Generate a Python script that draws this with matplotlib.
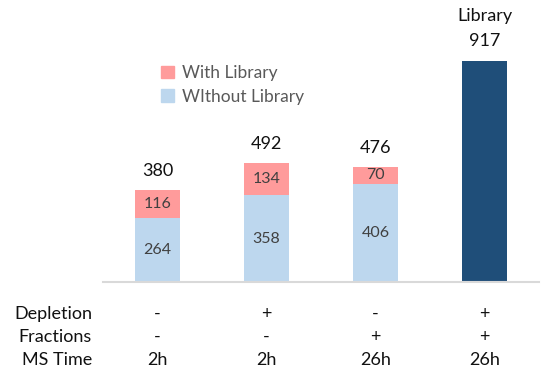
import matplotlib
matplotlib.use("Agg")
import matplotlib.pyplot as plt
import matplotlib.transforms as mtransforms
from matplotlib.patches import Patch

plt.rcParams['font.family'] = ['Lato', 'DejaVu Sans']

# Data
conditions = ["A", "B", "C", "D"]
without_library = [264, 358, 406, 0]
with_library = [116, 134, 70, 0]
library_only = [0, 0, 0, 917]
totals = [380, 492, 476, 917]
row_names = ["Depletion", "Fractions", "MS Time"]
depletion = ["-", "+", "-", "+"]
fractions = ["-", "-", "+", "+"]
ms_time = ["2h", "2h", "26h", "26h"]

c_without = "#BDD7EE"
c_with = "#FF9B9B"
c_lib = "#1F4E79"

fig = plt.figure(figsize=(5.56, 3.78), dpi=100)
ax = fig.add_axes([103/556, 1 - 281.7/378, (539 - 103)/556, 281.7/378])

x = list(range(len(conditions)))
w = 0.41
ax.bar(x[:3], without_library[:3], width=w, color=c_without)
ax.bar(x[:3], with_library[:3], width=w, bottom=without_library[:3], color=c_with)
ax.bar(x[3], library_only[3], width=w, color=c_lib)

for i in range(3):
    ax.text(i, without_library[i] / 2, str(without_library[i]), ha="center", va="center",
            fontsize=11.5, color="#404040")
    ax.text(i, without_library[i] + with_library[i] / 2, str(with_library[i]), ha="center",
            va="center", fontsize=11.5, color="#404040")
for i, t in enumerate(totals):
    ax.text(i, t + 80, str(t), ha="center", va="center", fontsize=13, color="#111111")
ax.text(3, totals[3] + 185, "Library", ha="center", va="center", fontsize=13, color="#111111")

ax.set_xlim(-0.5, 3.5)
ax.set_ylim(0, 1168)
for s in ["top", "right", "left"]:
    ax.spines[s].set_visible(False)
ax.spines["bottom"].set_color("#D9D9D9")
ax.spines["bottom"].set_linewidth(1.5)
ax.set_xticks([])
ax.set_yticks([])

# Condition table under the axis
trans = mtransforms.blended_transform_factory(ax.transData, fig.transFigure)
row_y = [1 - 314/378, 1 - 337/378, 1 - 360/378]
rows = [depletion, fractions, ms_time]
for ry, name, vals in zip(row_y, row_names, rows):
    fig.text(92/556, ry, name, ha="right", va="center", fontsize=13, color="#111111")
    for i, v in enumerate(vals):
        ax.text(i, ry, v, transform=trans, ha="center", va="center", fontsize=13,
                color="#111111")

handles = [Patch(color=c_with, label="With Library"),
           Patch(color=c_without, label="WIthout Library")]
leg = fig.legend(handles=handles, loc="upper left", bbox_to_anchor=(161/556, 1 - 65/378),
                 bbox_transform=fig.transFigure, frameon=False, fontsize=12.5,
                 handlelength=0.75, handleheight=0.75, handletextpad=0.45,
                 labelspacing=0.45, borderpad=0, borderaxespad=0, labelcolor="#595959")

fig.savefig("out.png", dpi=100)
